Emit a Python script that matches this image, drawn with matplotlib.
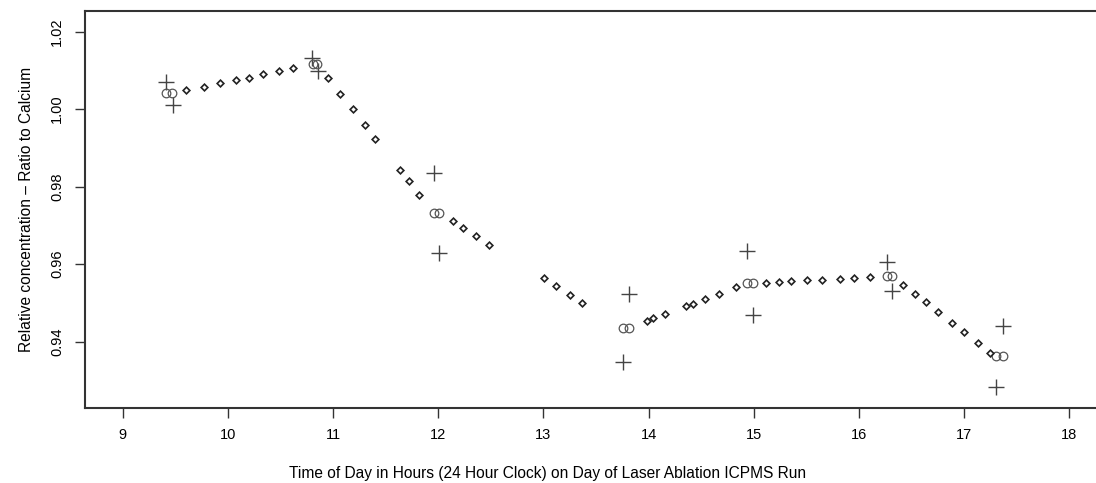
import numpy as np
import matplotlib
matplotlib.use('Agg')
import matplotlib.pyplot as plt

# standards: paired crosses (upper / lower) and the circles between them
cross_hi_t = [9.406, 10.800, 11.956, 13.810, 14.935, 16.266, 17.369]
cross_hi_v = [1.0070, 1.0131, 0.9836, 0.9523, 0.9635, 0.9605, 0.9441]
cross_lo_t = [9.475, 10.854, 12.004, 13.757, 14.989, 16.317, 17.302]
cross_lo_v = [1.0011, 1.0097, 0.9629, 0.9349, 0.9468, 0.9530, 0.9282]

circ_t = [9.406, 9.470, 10.806, 10.848, 11.956, 12.004, 13.757, 13.810,
          14.935, 14.989, 16.266, 16.317, 17.302, 17.369]
circ_v = [1.0041, 1.0041, 1.0116, 1.0116, 0.9733, 0.9733, 0.9435, 0.9435,
          0.9552, 0.9552, 0.9569, 0.9569, 0.9362, 0.9362]

# interpolated drift correction for the samples
samp_t = [9.603, 9.770, 9.922, 10.071, 10.204, 10.335, 10.487, 10.616,
          10.952, 11.069, 11.184, 11.300, 11.402,
          11.640, 11.722, 11.820, 12.137, 12.236, 12.356, 12.486,
          13.002, 13.120, 13.249, 13.370,
          13.984, 14.038, 14.152, 14.352, 14.422, 14.539, 14.669, 14.834,
          15.119, 15.236, 15.354, 15.502, 15.651, 15.820, 15.952, 16.101,
          16.418, 16.538, 16.640, 16.751, 16.887, 17.004, 17.134, 17.251]
samp_v = [1.0049, 1.0057, 1.0066, 1.0075, 1.0081, 1.0090, 1.0098, 1.0105,
          1.0080, 1.0040, 1.0000, 0.9959, 0.9924,
          0.9842, 0.9814, 0.9779, 0.9711, 0.9693, 0.9673, 0.9650,
          0.9564, 0.9543, 0.9521, 0.9500,
          0.9454, 0.9460, 0.9472, 0.9492, 0.9498, 0.9510, 0.9524, 0.9541,
          0.9552, 0.9554, 0.9556, 0.9559, 0.9560, 0.9563, 0.9565, 0.9567,
          0.9547, 0.9523, 0.9502, 0.9477, 0.9449, 0.9424, 0.9397, 0.9372]

xticks = np.arange(9, 19, 1)
yticks = [0.94, 0.96, 0.98, 1.00, 1.02]

plt.rcParams['font.family'] = ['Liberation Sans', 'DejaVu Sans']

fig = plt.figure(figsize=(10.96, 4.83), dpi=100)
ax = fig.add_axes([0.0776, 0.156, 0.9325, 0.8213])

ax.plot(cross_hi_t, cross_hi_v, ls='none', marker='+', ms=12, mew=1.0, color='#444444')
ax.plot(cross_lo_t, cross_lo_v, ls='none', marker='+', ms=12, mew=1.0, color='#444444')
ax.plot(circ_t, circ_v, ls='none', marker='o', ms=6.2, mew=0.9, mfc='none', mec='#555555')
ax.plot(samp_t, samp_v, ls='none', marker='D', ms=3.4, mew=1.2, mfc='white', mec='#222222')

ax.set_xlim(8.64, 18.36)
ax.set_ylim(0.9230, 1.0253)
ax.set_xticks(xticks)
ax.set_yticks(yticks)
ax.set_yticklabels(['%.2f' % v for v in yticks], rotation=90, va='center')

ax.tick_params(axis='both', direction='out', length=7, width=1.0, color='#333333',
               labelsize=10.5, pad=8)
for s in ax.spines.values():
    s.set_linewidth(1.5)
    s.set_color('#333333')

ax.set_xlabel('Time of Day in Hours (24 Hour Clock) on Day of Laser Ablation ICPMS Run',
              fontsize=11.2)
ax.xaxis.set_label_coords(0.453, -0.148)
ax.set_ylabel('Relative concentration \u2013 Ratio to Calcium', fontsize=11.2, labelpad=12)

fig.savefig('out.png', dpi=100)
